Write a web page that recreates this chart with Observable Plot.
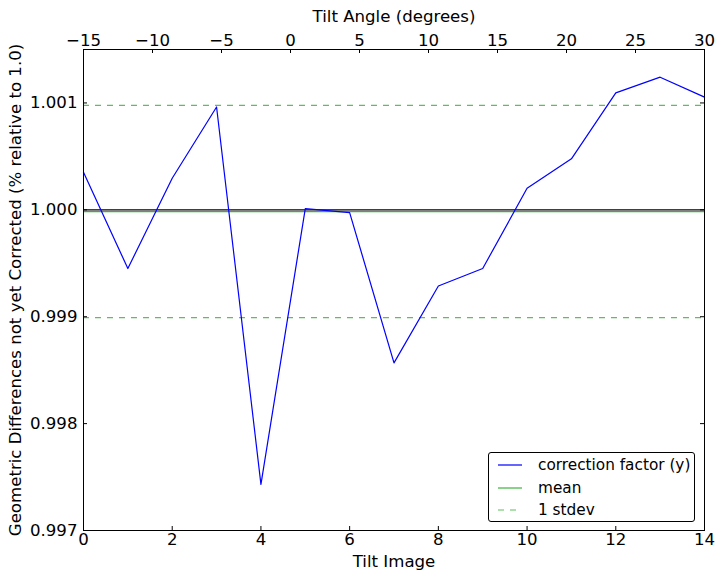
<!DOCTYPE html>
<html>
<head>
<meta charset="utf-8">
<script src="https://cdn.jsdelivr.net/npm/d3@7"></script>
<script src="https://cdn.jsdelivr.net/npm/@observablehq/plot@0.6"></script>
<style>
  html, body { margin: 0; padding: 0; background: white; }
  #wrap { position: relative; width: 722px; height: 579px; font-family: "DejaVu Sans", sans-serif; }
  #legend { position: absolute; left: 488px; top: 452px; width: 205px; height: 68px; border: 1px solid black; border-radius: 3px; background: white; font-size: 15.3px; }
  .row { position: absolute; left: 0; height: 20px; display: flex; align-items: center; white-space: nowrap; }
  .row svg { margin-left: 9px; margin-right: 16px; }
</style>
</head>
<body>
<div id="wrap"></div>
<script>
// Data
const tiltImage = [0, 1, 2, 3, 4, 5, 6, 7, 8, 9, 10, 11, 12, 13, 14];
const correctionFactor = [1.000352, 0.999451, 1.000296, 1.000962, 0.997432, 1.000011, 0.999974, 0.998568, 0.999288, 0.999451, 1.000202, 1.000477, 1.001094, 1.001241, 1.001054];
const meanValue = 0.999984;
const stdevValue = 0.000993;
const xTicks = [0, 2, 4, 6, 8, 10, 12, 14];
const angleTicks = [-15, -10, -5, 0, 5, 10, 15, 20, 25, 30];
const yTicks = [0.997, 0.998, 0.999, 1.000, 1.001];
const angleRange = [-15, 30];
const imageRange = [0, 14];

const W = 722, H = 579, mL = 83, mR = 18, mT = 49, mB = 49;
const plotW = W - mL - mR, plotH = H - mT - mB;
const green = "#3cb23c";
const dashGreen = "#5cbf5c";

const angleToIndex = a => imageRange[0] + (a - angleRange[0]) * (imageRange[1] - imageRange[0]) / (angleRange[1] - angleRange[0]);
const indexToAngle = x => angleRange[0] + (x - imageRange[0]) * (angleRange[1] - angleRange[0]) / (imageRange[1] - imageRange[0]);
const anglePos = angleTicks.map(angleToIndex);
const fmtSigned = v => { const r = Math.round(v); return r < 0 ? "\u2212" + Math.abs(r) : String(r); };

const data = tiltImage.map((x, i) => ({x, y: correctionFactor[i]}));

const chart = Plot.plot({
  width: W, height: H,
  marginLeft: mL, marginRight: mR, marginTop: mT, marginBottom: mB,
  style: {fontFamily: "DejaVu Sans", fontSize: "16.6px", background: "white", color: "black"},
  x: {domain: imageRange},
  y: {domain: [0.997, 1.0015]},
  marks: [
    Plot.ruleY([1.0], {stroke: "black", strokeWidth: 1.3}),
    Plot.ruleY([meanValue], {stroke: green, strokeWidth: 1.2}),
    Plot.ruleY([meanValue + stdevValue, meanValue - stdevValue], {stroke: dashGreen, strokeWidth: 1.2, strokeDasharray: "6,6"}),
    Plot.line(data, {x: "x", y: "y", stroke: "#0000ff", strokeWidth: 1.2}),
    Plot.frame({stroke: "black", strokeWidth: 1}),
    // inward ticks
    Plot.ruleX(xTicks, {x: d => d, insetTop: plotH - 4, stroke: "black"}),
    Plot.ruleX(anglePos, {x: d => d, insetBottom: plotH - 4, stroke: "black"}),
    Plot.ruleY(yTicks, {y: d => d, insetRight: plotW - 4, stroke: "black"}),
    Plot.ruleY(yTicks, {y: d => d, insetLeft: plotW - 4, stroke: "black"}),
    Plot.axisX(xTicks, {anchor: "bottom", tickSize: 0, tickPadding: 3, tickFormat: d => String(d),
      label: "Tilt Image", labelAnchor: "center", labelArrow: "none", labelOffset: 36}),
    Plot.axisX(anglePos, {anchor: "top", tickSize: 0, tickPadding: 4, tickFormat: d => fmtSigned(indexToAngle(d)),
      label: "Tilt Angle (degrees)", labelAnchor: "center", labelArrow: "none", labelOffset: 39}),
    Plot.axisY(yTicks, {anchor: "left", tickSize: 0, tickPadding: 6, tickFormat: d3.format(".3f"),
      label: "Geometric Differences not yet Corrected (% relative to 1.0)", labelAnchor: "center", labelArrow: "none", labelOffset: 74})
  ]
});

const wrap = document.getElementById("wrap");
wrap.appendChild(chart);

// Legend
const legendItems = [
  {label: "correction factor (y)", color: "#0000ff", dash: null},
  {label: "mean", color: green, dash: null},
  {label: "1 stdev", color: dashGreen, dash: "6,6"}
];
const legend = document.createElement("div");
legend.id = "legend";
legendItems.forEach((it, i) => {
  const row = document.createElement("div");
  row.className = "row";
  row.style.top = (2 + i * 22.5) + "px";
  row.innerHTML = `<svg width="24" height="10"><line x1="0" y1="5" x2="24" y2="5" stroke="${it.color}" stroke-width="1.2" ${it.dash ? `stroke-dasharray="${it.dash}"` : ""}/></svg><span>${it.label}</span>`;
  legend.appendChild(row);
});
wrap.appendChild(legend);
</script>
</body>
</html>
